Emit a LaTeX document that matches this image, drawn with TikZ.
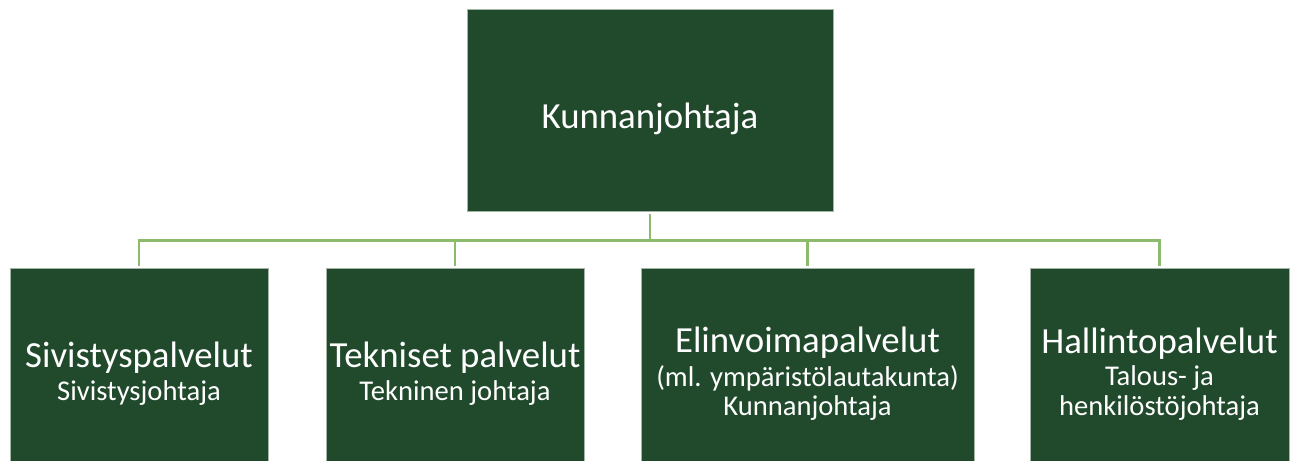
\documentclass[tikz,border=0pt]{standalone}
\usepackage{fontspec}
\setmainfont{Carlito}
\definecolor{boxgreen}{HTML}{214A2D}
\definecolor{boxedge}{HTML}{A3B5A6}
\definecolor{linegreen}{HTML}{8CBB6E}
\newcommand\isoteksti{\fontsize{36.8bp}{44bp}\selectfont}
\newcommand\pieniteksti{\fontsize{28.6bp}{30bp}\selectfont}
\tikzset{
  orgbox/.style={draw=boxedge,line width=0.8bp,fill=boxgreen,text=white,align=center,inner sep=0pt},
  conn/.style={draw=linegreen,line width=2.6bp,shorten <=3bp,shorten >=2bp},
}
\begin{document}
\begin{tikzpicture}[line join=miter,]
%%
\useasboundingbox (0bp,0bp) rectangle (1299bp,461bp);
\node (node_0) at (650.0bp,351.0bp) [orgbox,minimum width=366bp,minimum height=202bp] {\isoteksti\raisebox{-9bp}[\height][\depth]{Kunnanjohtaja}};
  \node (node_1) at (139.0bp,87.0bp) [orgbox,minimum width=258bp,minimum height=212bp] {\isoteksti Sivistyspalvelut\\[6bp]\pieniteksti Sivistysjohtaja};
  \node (node_2) at (455.0bp,87.0bp) [orgbox,minimum width=258bp,minimum height=212bp] {\isoteksti Tekniset palvelut\\[6bp]\pieniteksti Tekninen johtaja};
  \node (node_3) at (807.5bp,87.0bp) [orgbox,minimum width=333bp,minimum height=212bp] {\isoteksti Elinvoimapalvelut\\[6bp]\pieniteksti (ml. ympäristölautakunta)\\[4bp]\pieniteksti Kunnanjohtaja};
  \node (node_4) at (1159.5bp,87.0bp) [orgbox,minimum width=259bp,minimum height=212bp] {\isoteksti Hallintopalvelut\\[6bp]\pieniteksti Talous- ja\\[4bp]\pieniteksti henkilöstöjohtaja};
  \draw [conn] (node_0.south) -- ++(0,-29bp) -| (node_1.north);
  \draw [conn] (node_0.south) -- ++(0,-29bp) -| (node_2.north);
  \draw [conn] (node_0.south) -- ++(0,-29bp) -| (node_3.north);
  \draw [conn] (node_0.south) -- ++(0,-29bp) -| (node_4.north);
%
\end{tikzpicture}
\end{document}
